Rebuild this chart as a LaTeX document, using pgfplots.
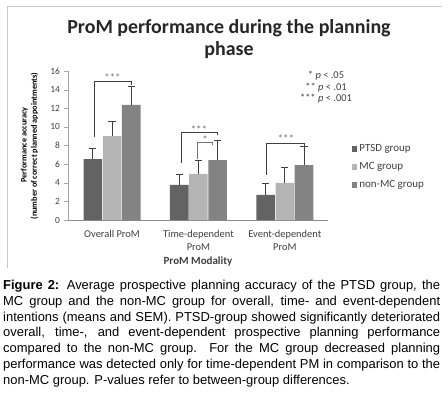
\documentclass[border=0pt]{standalone}
\usepackage{pgfplots}
\pgfplotsset{compat=1.18}
\usepackage{fontspec}
\setmainfont{Carlito}
\newfontfamily\arial{Liberation Sans}
\definecolor{cPTSD}{HTML}{636363}
\definecolor{cMC}{HTML}{B4B4B4}
\definecolor{cNon}{HTML}{838383}
\definecolor{errc}{HTML}{404040}
\definecolor{txt}{HTML}{404040}
\begin{document}
\begin{tikzpicture}[x=1bp,y=1bp]
\useasboundingbox (0,0) rectangle (448,392);
\draw[black!22, line width=1bp] (7,124) -- (7,385) -- (442,385);
\node[font=\bfseries\fontsize{20}{24}\selectfont, text=black!85] at (229,364) {ProM performance during the planning};
\node[font=\bfseries\fontsize{20}{24}\selectfont, text=black!85] at (229,342) {phase};
\node[rotate=90, font=\bfseries\fontsize{8.3}{9}\selectfont] at (24.5,247) {Performance accuracy};
\node[rotate=90, font=\bfseries\fontsize{8.3}{9}\selectfont] at (34.5,246) {(number of correct planned appointments)};
\begin{axis}[
  at={(68bp,172bp)}, anchor=south west, scale only axis,
  width=260bp, height=149bp,
  xmin=-0.51, xmax=2.5, ymin=0, ymax=16,
  ytick={0,2,...,16},
  xtick={0,1,2},
  xticklabels={Overall ProM, Time-dependent\\ProM, Event-dependent\\ProM},
  xticklabel style={align=center, font=\fontsize{10.5}{13}\selectfont, text=txt, yshift=-2bp},
  yticklabel style={font=\fontsize{9.5}{10}\selectfont, text=txt},
  /pgf/number format/assume math mode=true,
  axis x line*=bottom, axis y line*=left,
  axis line style={-, black!35},
  x axis line style={black!45},
  ytick pos=left, tick align=outside, major tick length=4.5bp,
  ytick style={black!35},
  xtick style={draw=none},
  xlabel={ProM Modality},
  xlabel style={font=\bfseries\fontsize{11}{12}\selectfont, text=txt, at={(axis description cs:0.5,0)}, anchor=center, yshift=-42bp},
  ybar=0.6bp, bar width=18.6bp,
  clip=false,
  legend style={at={(1.08,0.356)}, anchor=west, draw=none, fill=none,
    font=\fontsize{11}{12}\selectfont, text=txt, row sep=5.5bp},
  legend cell align=left,
  error bars/y dir=plus, error bars/y explicit,
  error bars/error bar style={errc, line width=0.9bp},
  error bars/error mark options={rotate=90, mark size=3.6bp, errc, line width=0.9bp},
]
\addplot[fill=cPTSD, draw=none, legend image code/.code={\fill[cPTSD] (0bp,-2.7bp) rectangle (5.4bp,2.7bp);}]
  coordinates {(0,6.55) +- (0,1.18) (1,3.76) +- (0,1.14) (2,2.69) +- (0,1.25)};
\addplot[fill=cMC, draw=none, legend image code/.code={\fill[cMC] (0bp,-2.7bp) rectangle (5.4bp,2.7bp);}]
  coordinates {(0,9.02) +- (0,1.54) (1,4.94) +- (0,1.50) (2,4.00) +- (0,1.66)};
\addplot[fill=cNon, draw=none, legend image code/.code={\fill[cNon] (0bp,-2.7bp) rectangle (5.4bp,2.7bp);}]
  coordinates {(0,12.35) +- (0,2.04) (1,6.44) +- (0,2.08) (2,5.90) +- (0,2.05)};
\legend{PTSD group, MC group, non-MC group}
\draw[errc, line width=0.9bp] (axis cs:-0.209,8.9) |- (axis cs:0.219,14.93) -- (axis cs:0.219,14.5);
\draw[errc, line width=0.9bp] (axis cs:0.798,6.12) |- (axis cs:1.215,9.45) -- (axis cs:1.215,9.13);
\draw[black!55, line width=0.9bp] (axis cs:0.983,6.55) |- (axis cs:1.157,8.38) -- (axis cs:1.157,8.06);
\draw[errc, line width=0.9bp] (axis cs:1.782,4.83) |- (axis cs:2.233,8.27) -- (axis cs:2.233,7.84);
\node[font=\fontsize{11}{12}\selectfont, text=black!55] at (axis cs:0.005,15.3) {***};
\node[font=\fontsize{11}{12}\selectfont, text=black!55] at (axis cs:1.006,9.75) {***};
\node[font=\fontsize{11}{12}\selectfont, text=black!55] at (axis cs:1.076,8.6) {*};
\node[font=\fontsize{11}{12}\selectfont, text=black!55] at (axis cs:2.013,8.75) {***};
\end{axis}
\node[font=\fontsize{10.5}{11}\selectfont, text=txt] at (326,316) {* \textit{p} < .05};
\node[font=\fontsize{10.5}{11}\selectfont, text=txt] at (326,304) {** \textit{p} < .01};
\node[font=\fontsize{10.5}{11}\selectfont, text=txt] at (326,293) {*** \textit{p} < .001};
\node[anchor=north west, inner sep=0pt, text width=437bp, align=justify,
  font=\arial\fontsize{13}{16}\selectfont] at (3,114.2)
  {\hyphenpenalty=10000\exhyphenpenalty=10000\emergencystretch=2em\strut\textbf{Figure 2:} Average prospective planning accuracy of the PTSD group, the\linebreak
  MC group and the non-MC group for overall, time- and event-dependent\linebreak
  intentions (means and SEM). PTSD-group showed significantly deteriorated\linebreak
  overall, time-, and event-dependent prospective planning performance\linebreak
  compared to the non-MC group. For the MC group decreased planning\linebreak
  performance was detected only for time-dependent PM in comparison to the\linebreak
  non-MC group. P-values refer to between-group differences.};
\end{tikzpicture}
\end{document}
